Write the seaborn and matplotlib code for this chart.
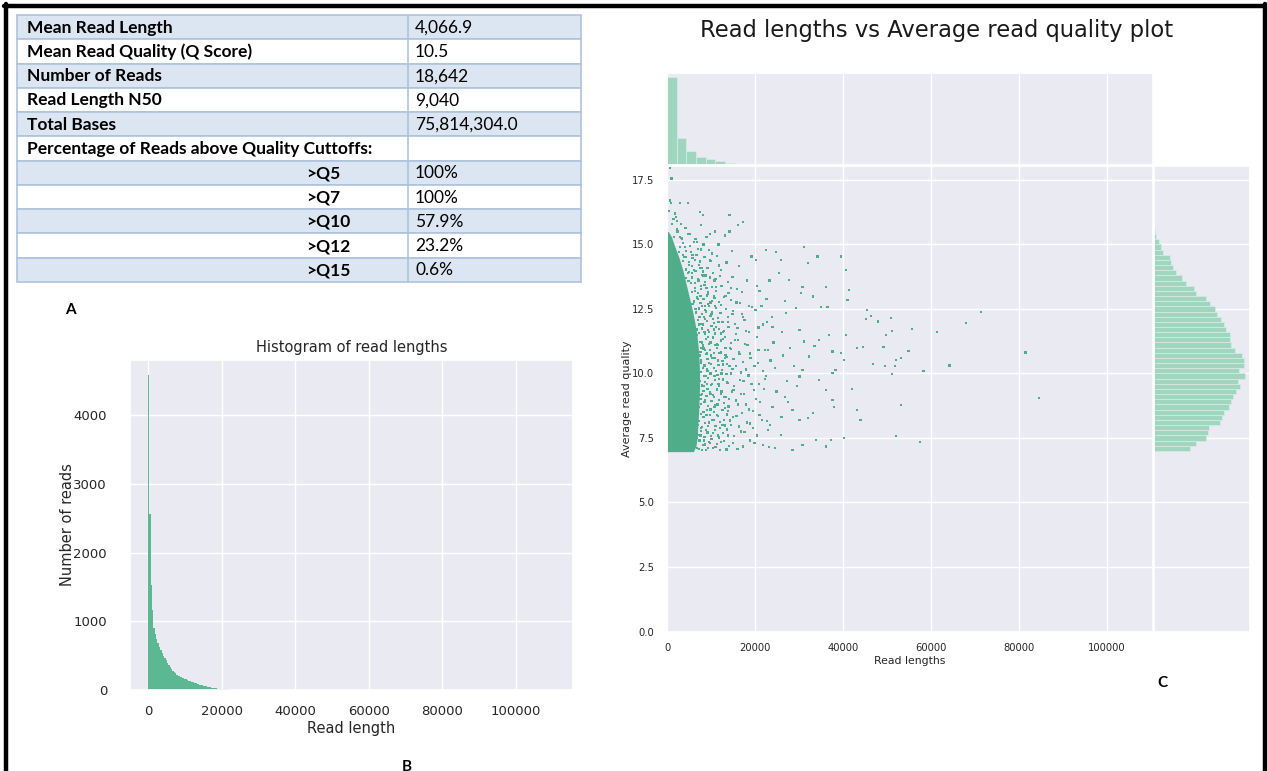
import numpy as np
import pandas as pd
import matplotlib
matplotlib.use("Agg")
import matplotlib.pyplot as plt
import seaborn as sns
from matplotlib.lines import Line2D

# ---------------- data ----------------
table_labels = ["Mean Read Length", "Mean Read Quality (Q Score)", "Number of Reads",
                "Read Length N50", "Total Bases", "Percentage of Reads above Quality Cuttoffs:",
                ">Q5", ">Q7", ">Q10", ">Q12", ">Q15"]
table_values = ["4,066.9", "10.5", "18,642", "9,040", "75,814,304.0", "",
                "100%", "100%", "57.9%", "23.2%", "0.6%"]

# Histogram B: read-length bins of 367 bp starting at 0
length_bin_width = 367
length_counts = [4580, 2555, 1530, 1160, 900, 810, 740, 680, 625, 575, 535, 490, 460, 430,
                 400, 365, 335, 300, 280, 262, 245, 225, 210, 198, 188, 178, 170, 162, 154,
                 146, 138, 130, 122, 114, 106, 98, 92, 86, 80, 75, 70, 64, 58, 52, 47, 42,
                 38, 34, 30, 27, 24, 21, 19, 17, 15, 13, 12, 10, 9, 8, 7, 6, 5, 5, 4, 4,
                 3, 3, 3, 2, 2, 2, 2, 1, 1, 1, 1, 1, 1, 1, 1]

# Marginal histogram (top): read-length bins of 2200 bp
marg_len_width = 2200
marg_len_counts = [10300, 3150, 1680, 980, 720, 480, 260, 150, 95, 60, 40, 26, 16, 10, 6,
                   4, 3, 2, 2, 1, 1, 1]

# Marginal histogram (right): quality bins of 0.2 starting at Q7.0
marg_q_start = 7.0
marg_q_width = 0.2
marg_q_counts = [281, 334, 408, 426, 431, 523, 539, 550, 592, 610, 623, 644, 676, 663, 721,
                 671, 707, 707, 697, 636, 610, 602, 602, 565, 550, 531, 497, 479, 439, 408,
                 334, 313, 255, 224, 171, 150, 137, 124, 71, 53, 39, 18, 11]

# Dense core of the scatter (read length in kb reached by the solid cloud at each quality)
core_q = [6.97, 7.2, 7.6, 8.0, 8.5, 9.0, 9.5, 10.0, 10.5, 11.0, 11.5, 12.0, 12.5, 13.0,
          13.5, 14.0, 14.5, 15.0, 15.3, 15.5]
core_len_k = [6.0, 6.6, 6.9, 7.0, 7.2, 7.3, 7.4, 7.4, 7.3, 7.1, 6.8, 6.3, 5.7, 5.0, 4.3,
              3.6, 2.7, 1.6, 1.0, 0.3]

# Individual reads around the dense core (length kb, quality)
pts_len_k = [
    5.5, 6.2, 6.8, 7.4, 7.9, 8.6, 9.3, 10.1, 11.0, 12.2, 13.5, 15.0, 17.3, 18.8, 21.8, 24.5,
    6.4, 7.1, 7.6, 8.2, 8.9, 9.6, 10.4, 11.3, 12.0, 12.9, 13.8, 14.6, 15.8, 16.9, 18.1, 19.6, 21.0, 23.4, 25.9,
    7.3, 7.9, 8.5, 9.2, 9.9, 10.6, 11.5, 12.4, 13.2, 14.1, 15.1, 16.2, 17.5, 18.7, 20.2, 22.1, 24.0, 26.8,
    7.5, 8.1, 8.8, 9.5, 10.3, 11.1, 11.9, 12.8, 13.7, 14.5, 15.6, 16.6, 17.9, 19.2, 20.6, 22.5, 24.6, 27.3,
    7.4, 8.0, 8.7, 9.4, 10.2, 11.0, 11.8, 12.7, 13.5, 14.4, 15.4, 16.5, 17.8, 19.0, 20.4, 22.3, 24.2, 26.4,
    6.8, 7.4, 8.1, 8.8, 9.6, 10.4, 11.2, 12.1, 13.0, 13.9, 14.9, 16.0, 17.2, 18.6, 20.1, 21.9, 23.8,
    5.8, 6.4, 7.1, 7.8, 8.6, 9.4, 10.3, 11.2, 12.2, 13.3, 14.5, 15.8, 17.1, 18.7, 20.4, 22.6,
    4.4, 5.0, 5.7, 6.4, 7.2, 8.0, 8.9, 9.9, 11.0, 12.2, 13.5, 14.9, 16.4, 18.2, 19.2, 20.3,
    2.8, 3.4, 4.1, 4.9, 5.8, 6.8, 7.8, 9.0, 10.3, 11.7, 13.2, 14.8,
    0.7, 0.9, 2.9, 4.8, 7.5, 8.2, 14.2, 17.3, 16.1, 7.8, 10.9, 14.2, 9.7, 0.7, 1.0, 1.5, 2.2, 0.5,
    6.9, 7.7, 8.4, 9.0, 9.8, 10.7, 11.6, 12.6, 6.6, 7.6, 8.3, 9.1, 9.9, 10.8, 11.8, 12.9, 13.8,
    6.9, 7.8, 8.4, 9.2, 10.0, 10.8, 11.6, 12.4, 13.2, 14.2, 6.9, 7.7, 8.5, 9.1, 9.9, 10.7, 11.5,
    12.3, 13.3, 6.5, 7.2, 7.9, 8.6, 9.3, 10.1, 10.9, 11.7, 5.5, 6.2, 7.0, 7.6, 8.3, 9.0, 9.8,
    10.6, 4.0, 4.7, 5.4, 6.1, 6.9, 7.6, 8.5, 3.0, 3.7, 2.3, 3.1, 1.8]
pts_q = [
    7.05, 7.3, 7.1, 7.4, 7.02, 7.25, 7.1, 7.45, 7.15, 7.35, 7.05, 7.3, 7.17, 7.4, 7.23, 7.1,
    7.7, 8.0, 7.6, 8.3, 7.8, 8.1, 7.7, 8.4, 7.9, 8.2, 7.6, 8.0, 8.35, 7.75, 8.1, 7.9, 8.4, 8.0, 7.62,
    8.7, 9.2, 8.9, 9.4, 8.6, 9.1, 8.8, 9.3, 8.65, 9.0, 9.35, 8.8, 9.2, 8.6, 9.0, 9.4, 8.7, 9.1,
    9.7, 10.2, 9.9, 10.4, 9.6, 10.1, 9.8, 10.35, 9.65, 10.0, 10.3, 9.75, 10.15, 9.6, 10.4, 9.9, 10.2, 9.7,
    10.7, 11.2, 10.9, 11.4, 10.6, 11.1, 10.8, 11.35, 10.65, 11.0, 11.3, 10.75, 11.15, 10.6, 11.4, 10.9, 11.2, 10.7,
    11.7, 12.2, 11.9, 12.4, 11.6, 12.1, 11.8, 12.35, 11.65, 12.0, 12.3, 11.75, 12.2, 11.6, 12.45, 11.9, 12.2,
    12.7, 13.2, 12.9, 13.4, 12.6, 13.1, 12.8, 13.35, 12.65, 13.0, 13.3, 12.75, 13.15, 12.6, 13.4, 12.9,
    13.7, 14.2, 13.9, 14.4, 13.6, 14.1, 13.8, 14.35, 13.65, 14.0, 14.3, 13.75, 14.15, 13.6, 14.53, 14.4,
    14.7, 15.2, 14.9, 15.4, 14.6, 15.1, 14.8, 15.3, 14.65, 15.0, 15.35, 14.75,
    16.7, 16.6, 16.6, 16.6, 16.27, 16.14, 16.14, 15.88, 15.75, 15.75, 15.5, 15.5, 15.4, 17.95, 17.56, 16.0, 15.9, 16.3,
    7.5, 7.9, 7.4, 8.4, 7.3, 8.2, 7.6, 8.0, 8.6, 9.0, 8.5, 9.6, 9.2, 8.7, 9.5, 9.1, 8.55,
    10.0, 10.5, 9.5, 10.1, 10.7, 9.9, 10.5, 10.0, 10.6, 10.3, 11.5, 11.0, 11.6, 10.8, 11.2, 11.7, 11.1,
    11.55, 11.0, 12.5, 11.9, 12.6, 12.1, 12.7, 12.3, 12.6, 12.0, 13.5, 12.8, 13.6, 13.0, 13.8, 13.3, 13.7,
    13.0, 14.5, 13.9, 14.7, 14.0, 14.6, 14.1, 14.5, 15.3, 14.6, 15.6, 15.8, 16.2]

# More reads in the speckled zone next to the core (length kb, quality)
speckle_points = [
    (7.3, 7.08), (8.1, 7.22), (8.8, 7.02), (9.6, 7.33), (10.4, 7.12), (11.3, 7.26), (12.1, 7.04),
    (13.0, 7.38), (14.1, 7.18), (16.0, 7.08), (19.9, 7.3), (23.1, 7.14),
    (7.0, 7.62), (7.8, 7.78), (8.5, 7.55), (9.2, 7.71), (10.0, 7.58), (10.9, 7.8), (11.8, 7.52),
    (12.7, 7.69), (13.6, 7.83), (15.3, 7.57), (17.6, 7.72), (20.5, 7.6),
    (7.2, 8.15), (7.9, 7.93), (8.7, 8.09), (9.4, 7.97), (10.2, 8.2), (11.0, 7.95), (12.0, 8.12),
    (13.1, 7.98), (14.3, 8.18), (16.4, 7.94), (18.9, 8.06), (22.7, 8.16),
    (7.7, 8.44), (8.4, 8.32), (9.1, 8.57), (9.8, 8.38), (10.7, 8.51), (11.6, 8.35), (12.6, 8.58),
    (13.7, 8.41), (15.0, 8.3), (17.1, 8.48), (19.5, 8.55),
    (7.8, 8.83), (8.6, 8.98), (9.3, 8.75), (10.1, 8.92), (10.9, 8.79), (11.9, 8.96), (12.9, 8.85),
    (14.0, 8.72), (15.6, 8.95), (18.0, 8.8), (21.2, 8.9),
    (7.6, 9.18), (8.3, 9.32), (9.0, 9.12), (9.7, 9.27), (10.5, 9.16), (11.4, 9.38), (12.3, 9.22),
    (13.4, 9.1), (14.8, 9.3), (16.8, 9.2), (19.8, 9.35),
    (7.9, 9.53), (8.6, 9.66), (9.3, 9.81), (10.0, 9.56), (10.9, 9.74), (11.7, 9.58), (12.7, 9.77),
    (13.9, 9.62), (15.3, 9.5), (17.4, 9.72), (20.9, 9.6),
    (7.7, 10.07), (8.4, 9.91), (9.1, 10.16), (9.9, 10.0), (10.7, 10.21), (11.5, 9.94), (12.5, 10.12),
    (13.5, 9.97), (14.9, 10.18), (16.9, 10.04), (18.5, 9.92), (21.8, 10.1),
    (7.8, 10.42), (8.5, 10.31), (9.2, 10.55), (10.0, 10.38), (10.8, 10.6), (11.7, 10.33), (12.6, 10.49),
    (13.7, 10.36), (15.1, 10.57), (17.2, 10.44), (19.9, 10.3),
    (7.6, 10.83), (8.3, 10.97), (9.0, 10.74), (9.8, 10.91), (10.6, 10.78), (11.4, 10.99), (12.3, 10.81),
    (13.3, 10.72), (14.6, 10.95), (16.3, 10.84), (18.8, 10.77), (23.0, 10.92),
    (7.5, 11.22), (8.2, 11.08), (8.9, 11.33), (9.6, 11.15), (10.4, 11.39), (11.3, 11.12), (12.2, 11.28),
    (13.2, 11.41), (14.5, 11.18), (16.2, 11.3), (18.3, 11.1),
    (7.2, 11.58), (7.9, 11.74), (8.6, 11.52), (9.3, 11.69), (10.1, 11.83), (10.9, 11.55), (11.8, 11.71),
    (12.8, 11.6), (14.0, 11.79), (15.7, 11.53), (17.9, 11.66), (20.8, 11.78),
    (7.0, 12.06), (7.7, 11.92), (8.4, 12.18), (9.1, 12.02), (9.9, 12.22), (10.7, 11.96), (11.6, 12.14),
    (12.6, 12.0), (13.8, 12.2), (15.4, 11.93), (17.6, 12.08),
    (6.6, 12.36), (7.3, 12.52), (8.0, 12.31), (8.7, 12.47), (9.5, 12.6), (10.3, 12.38), (11.2, 12.55),
    (12.2, 12.33), (13.4, 12.5), (15.0, 12.42), (17.0, 12.3), (19.4, 12.58),
    (6.2, 12.77), (6.9, 12.94), (7.6, 12.72), (8.3, 12.88), (9.1, 13.02), (9.9, 12.75), (10.8, 12.91),
    (11.8, 12.78), (13.0, 12.97), (14.6, 12.84), (16.6, 12.73),
    (5.6, 13.16), (6.3, 13.31), (7.0, 13.12), (7.7, 13.27), (8.5, 13.42), (9.3, 13.14), (10.2, 13.36),
    (11.2, 13.2), (12.4, 13.38), (14.0, 13.12), (15.9, 13.28),
    (4.9, 13.57), (5.6, 13.72), (6.3, 13.52), (7.1, 13.66), (7.9, 13.81), (8.7, 13.55), (9.7, 13.74),
    (10.8, 13.6), (12.1, 13.78), (13.8, 13.53),
    (4.3, 14.03), (5.0, 13.92), (5.7, 14.15), (6.5, 13.98), (7.3, 14.21), (8.2, 13.95), (9.2, 14.1),
    (10.4, 13.9), (11.8, 14.18),
    (3.6, 14.36), (4.3, 14.52), (5.0, 14.31), (5.8, 14.47), (6.6, 14.6), (7.5, 14.34), (8.5, 14.5),
    (9.8, 14.4), (11.3, 14.56),
    (2.9, 14.9), (3.6, 15.05), (4.4, 14.74), (5.2, 14.95), (6.1, 15.1), (7.1, 14.82), (8.3, 15.0),
    (9.6, 14.78),
    (1.6, 15.3), (2.4, 15.5), (3.3, 15.25), (4.2, 15.65), (5.3, 15.4), (6.5, 15.2), (1.1, 15.8), (2.0, 16.05)]

# Long reads (length kb, quality)
long_points = [
    (21.0, 13.2), (22.8, 12.0), (23.5, 10.5), (24.9, 9.3), (26.2, 11.6), (27.5, 8.9), (28.9, 10.3),
    (21.6, 8.2), (23.0, 7.8), (25.5, 13.9), (26.8, 12.8), (28.0, 11.0), (29.5, 9.5), (22.2, 9.8),
    (24.0, 11.8), (26.0, 8.3), (20.8, 10.9), (21.5, 12.6), (23.3, 13.6),
    (22.5, 14.79), (24.8, 14.72), (31.2, 14.9), (34.2, 14.53), (39.5, 14.53), (25.9, 14.4),
    (32.0, 14.27), (40.6, 14.01), (27.8, 13.62), (30.8, 13.36), (30.4, 13.11), (33.1, 12.98),
    (36.1, 13.36), (41.4, 13.23), (41.0, 12.85), (35.0, 12.59), (36.5, 12.59), (29.3, 12.53),
    (27.0, 12.33), (43.2, 10.98), (40.6, 11.5), (39.5, 10.79), (40.2, 10.53), (37.6, 10.85),
    (36.8, 11.5), (34.6, 11.3), (33.5, 11.05), (31.2, 11.24), (30.1, 11.69), (32.3, 10.66),
    (30.8, 10.14), (30.1, 9.88), (34.6, 9.75), (37.6, 10.01), (38.3, 10.14), (36.1, 9.36),
    (37.6, 8.97), (38.0, 8.71), (43.2, 8.58), (33.1, 8.46), (28.5, 8.58), (30.1, 8.2), (32.0, 8.27),
    (25.9, 7.62), (30.8, 7.23), (33.8, 7.42), (36.1, 7.17), (37.2, 7.42), (40.2, 7.49), (28.5, 7.04),
    (42.0, 9.4), (44.0, 8.2),
    (45.5, 12.46), (45.2, 12.11), (46.4, 12.23), (48.0, 12.01), (50.9, 12.15), (55.6, 11.72),
    (51.2, 11.66), (49.7, 11.49), (61.4, 11.61), (68.0, 11.96), (71.3, 12.38), (44.5, 11.02),
    (49.2, 11.02), (54.9, 10.88), (53.1, 10.61), (52.0, 10.53), (46.8, 10.36), (49.6, 10.28),
    (51.8, 10.28), (64.2, 10.31), (58.3, 10.09), (51.1, 9.98), (81.5, 10.81), (84.5, 9.04),
    (53.1, 8.79), (52.1, 7.57), (57.5, 7.34)]

# ---------------- style ----------------
sns.set_theme(style="darkgrid")
plt.rcParams["font.family"] = ["DejaVu Sans"]
HIST_COLOR = "#5cb893"
SCAT_COLOR = "#4fae89"
MARG_COLOR = "#a0d5c0"
ROW_BLUE = "#dce6f2"
BORDER = "#aec3dc"

W, H = 1267, 771
fig = plt.figure(figsize=(W / 100, H / 100), dpi=100)
fig.patch.set_facecolor("white")


def rect(l, t, r, b):
    return [l / W, 1 - b / H, (r - l) / W, (b - t) / H]


# ---------------- table (A) ----------------
tl, tt, tr, tb = 17, 15, 581, 282
ax_t = fig.add_axes(rect(tl, tt, tr, tb))
ax_t.set_axis_off()
ax_t.set_xlim(tl, tr)
ax_t.set_ylim(tb, tt)
n = len(table_labels)
row_h = (tb - tt) / n
yc = [tt + row_h * (i + 0.5) for i in range(n)]
row_cols = [ROW_BLUE if i % 2 == 0 else "white" for i in range(n)]
ax_t.barh(yc, tr - tl, left=tl, height=row_h, color=row_cols, edgecolor=BORDER,
          linewidth=1.2, clip_on=False)
ax_t.plot([408, 408], [tt, tb], color=BORDER, lw=1.2, clip_on=False)
for y, lab, val in zip(yc, table_labels, table_values):
    x = 306 if lab.startswith(">") else 27
    ax_t.text(x, y + 0.5, lab, fontweight="bold", va="center", ha="left",
              fontsize=12.5, family="Lato", color="black")
    ax_t.text(415, y + 0.5, val, va="center", ha="left", fontsize=12.5,
              family="Lato", color="black")

# ---------------- histogram (B) ----------------
ax_b = fig.add_axes(rect(130, 360, 573, 690))
edges_b = np.arange(len(length_counts) + 1) * length_bin_width
df_b = pd.DataFrame({"length": edges_b[:-1] + length_bin_width / 2,
                     "count": np.asarray(length_counts, dtype=float)})
sns.histplot(data=df_b, x="length", weights="count", bins=edges_b.tolist(), color=HIST_COLOR,
             alpha=1, linewidth=0, ax=ax_b)
ax_b.set_xlim(-4900, 115600)
ax_b.set_ylim(0, 4800)
ax_b.set_xticks([0, 20000, 40000, 60000, 80000, 100000])
ax_b.set_yticks([0, 1000, 2000, 3000, 4000])
ax_b.tick_params(axis="both", labelsize=9.5, colors="#262626")
ax_b.tick_params(axis="x", pad=5)
ax_b.tick_params(axis="y", pad=10.5)
ax_b.set_title("Histogram of read lengths", fontsize=10.5, pad=6, color="#262626")
ax_b.set_xlabel("Read length", fontsize=10.5, color="#262626")
ax_b.set_ylabel("Number of reads", fontsize=10.5, color="#262626")
ax_b.xaxis.set_label_coords(0.5, -0.095)
ax_b.yaxis.set_label_coords(-0.125, 0.5)

# ---------------- joint plot (C) ----------------
XMAX = 110450
YMAX = 18.04
ax_j = fig.add_axes(rect(667, 166, 1153, 631.5))
ax_mx = fig.add_axes(rect(667, 73, 1153, 165))
ax_my = fig.add_axes(rect(1154, 166, 1250, 631.5))

ax_j.fill_betweenx(core_q, 0, np.array(core_len_k) * 1000, color=SCAT_COLOR, linewidth=0)
extra = speckle_points + long_points
df_pts = pd.DataFrame({
    "length": np.concatenate([np.array(pts_len_k), np.array([p[0] for p in extra])]) * 1000,
    "quality": np.concatenate([np.array(pts_q), np.array([p[1] for p in extra])]),
})
sns.scatterplot(data=df_pts, x="length", y="quality", ax=ax_j, color=SCAT_COLOR,
                s=2.6, marker="s", linewidth=0, edgecolor="none")
ax_j.set_xlim(0, XMAX)
ax_j.set_ylim(0, YMAX)
ax_j.set_xticks([0, 20000, 40000, 60000, 80000, 100000])
ax_j.set_yticks([0, 2.5, 5, 7.5, 10, 12.5, 15, 17.5])
ax_j.set_yticklabels(["0.0", "2.5", "5.0", "7.5", "10.0", "12.5", "15.0", "17.5"])
ax_j.tick_params(axis="both", labelsize=7.2, colors="#262626")
ax_j.tick_params(axis="x", pad=2.5)
ax_j.tick_params(axis="y", pad=3.5)
ax_j.set_xlabel("Read lengths", fontsize=7.8, color="#262626")
ax_j.set_ylabel("Average read quality", fontsize=8, color="#262626")
ax_j.xaxis.set_label_coords(0.5, -0.052)
ax_j.yaxis.set_label_coords(-0.072, 0.5)

edges_mx = np.arange(len(marg_len_counts) + 1) * marg_len_width
df_mx = pd.DataFrame({"length": edges_mx[:-1] + marg_len_width / 2,
                      "count": np.asarray(marg_len_counts, dtype=float)})
sns.histplot(data=df_mx, x="length", weights="count", bins=edges_mx.tolist(), color=MARG_COLOR,
             alpha=1, edgecolor="#d2ebe1", linewidth=0.6, ax=ax_mx)
ax_mx.set_xlim(0, XMAX)
ax_mx.set_xticks([0, 20000, 40000, 60000, 80000, 100000])
ax_mx.tick_params(labelbottom=False, labelleft=False)
ax_mx.yaxis.grid(False)
ax_mx.set_xlabel("")
ax_mx.set_ylabel("")

edges_my = marg_q_start + np.arange(len(marg_q_counts) + 1) * marg_q_width
df_my = pd.DataFrame({"quality": edges_my[:-1] + marg_q_width / 2,
                      "count": np.asarray(marg_q_counts, dtype=float)})
sns.histplot(data=df_my, y="quality", weights="count", bins=edges_my.tolist(), color=MARG_COLOR,
             alpha=1, edgecolor="#d2ebe1", linewidth=0.6, ax=ax_my)
ax_my.set_ylim(0, YMAX)
ax_my.set_yticks([0, 2.5, 5, 7.5, 10, 12.5, 15, 17.5])
ax_my.tick_params(labelbottom=False, labelleft=False)
ax_my.xaxis.grid(False)
ax_my.set_xlabel("")
ax_my.set_ylabel("")

fig.text(937 / W, 1 - 31 / H, "Read lengths vs Average read quality plot",
         ha="center", va="center", fontsize=16.3, color="#1a1a1a")

# ---------------- panel letters ----------------
for lx, ly, letter in [(70, 310, "A"), (407, 767, "B"), (1162, 683, "C")]:
    fig.text(lx / W, 1 - ly / H, letter, ha="center", va="center", fontsize=11,
             fontweight="bold", family="Lato", color="black")

# ---------------- frame ----------------
for xs, ys in [([6, 6], [4, H + 5]), ([4, 1265], [5.5, 5.5]), ([1264.5, 1264.5], [4, H + 5])]:
    fig.add_artist(Line2D([x / W for x in xs], [1 - y / H for y in ys], color="black",
                          linewidth=3.2, transform=fig.transFigure, clip_on=False))

fig.savefig("out.png", dpi=100, facecolor="white")
